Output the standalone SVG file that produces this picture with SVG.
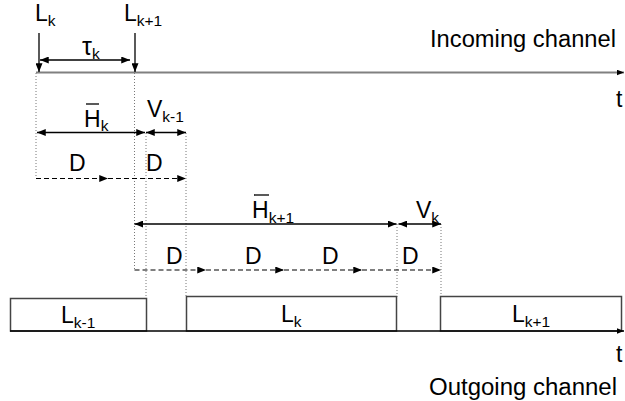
<svg xmlns="http://www.w3.org/2000/svg" width="625" height="401" viewBox="0 0 625 401">
<style>
text{font-family:"Liberation Sans",Arial,sans-serif;fill:#000}
.lb{font-size:23px}
.sb{font-size:15.5px}
.ax{stroke:#808080;stroke-width:2;fill:none}
.ar{stroke:#000;stroke-width:1.3;fill:none}
.ds{stroke:#000;stroke-width:1.2;stroke-dasharray:5,3;fill:none}
.dt{stroke:#777;stroke-width:1;stroke-dasharray:1,2;fill:none}
.bx{fill:#fff;stroke:#444;stroke-width:1.5}
.ob{stroke:#000;stroke-width:1.3}
</style>
<defs>
<marker id="ah" viewBox="0 0 10 8" refX="10" refY="4" markerWidth="9" markerHeight="7" markerUnits="userSpaceOnUse" orient="auto-start-reverse">
<path d="M0,0 L10,4 L0,8 Z" fill="#000"/>
</marker>
<marker id="ahs" viewBox="0 0 10 8" refX="10" refY="4" markerWidth="7" markerHeight="6" markerUnits="userSpaceOnUse" orient="auto">
<path d="M0,0 L10,4 L0,8 Z" fill="#000"/>
</marker>
</defs>

<g id="guides">
<line class="dt" x1="36" y1="73" x2="36" y2="178"/>
<line class="dt" x1="134.5" y1="73" x2="134.5" y2="270"/>
<line class="dt" x1="146" y1="133" x2="146" y2="298"/>
<line class="dt" x1="186" y1="133" x2="186" y2="297"/>
<line class="dt" x1="397" y1="224" x2="397" y2="297"/>
<line class="dt" x1="441" y1="224" x2="441" y2="297"/>
</g>

<g id="incoming-channel">
<line class="ax" x1="36" y1="72.5" x2="624" y2="72.5" marker-end="url(#ahs)"/>
<text class="lb" x="430" y="46.5" textLength="186" lengthAdjust="spacingAndGlyphs">Incoming channel</text>
<text class="lb" x="616" y="107">t</text>
</g>

<g id="outgoing-channel">
<g id="box-Lk-1">
<rect class="bx" x="10.5" y="298.5" width="136" height="32.5"/>
<text class="lb" x="61" y="323">L<tspan class="sb" dy="5">k-1</tspan></text>
</g>
<g id="box-Lk">
<rect class="bx" x="186.5" y="296.5" width="210" height="34.5"/>
<text class="lb" x="281" y="322">L<tspan class="sb" dy="5">k</tspan></text>
</g>
<g id="box-Lk+1">
<rect class="bx" x="440.5" y="296.5" width="181" height="34.5"/>
<text class="lb" x="512" y="322">L<tspan class="sb" dy="5">k+1</tspan></text>
</g>
<line class="ar" x1="10" y1="331" x2="624" y2="331" marker-end="url(#ahs)"/>
<text class="lb" x="616" y="362">t</text>
<text class="lb" x="429" y="395" textLength="188" lengthAdjust="spacingAndGlyphs">Outgoing channel</text>
</g>

<g id="arrivals">
<g id="arrival-Lk">
<text class="lb" x="35" y="21">L<tspan class="sb" dy="5">k</tspan></text>
<line class="ar" x1="39" y1="33" x2="39" y2="72" marker-end="url(#ah)"/>
</g>
<g id="arrival-Lk+1">
<text class="lb" x="124" y="21">L<tspan class="sb" dy="5">k+1</tspan></text>
<line class="ar" x1="135" y1="33" x2="135" y2="72" marker-end="url(#ah)"/>
</g>
</g>

<g id="connectors">
<g id="tau">
<line class="ar" x1="40" y1="60" x2="130" y2="60" marker-start="url(#ah)" marker-end="url(#ah)"/>
<text x="82" y="55" style="font-size:25px">τ<tspan class="sb" dy="4">k</tspan></text>
</g>
<g id="Hk">
<line class="ar" x1="37" y1="132.5" x2="145" y2="132.5" marker-start="url(#ah)" marker-end="url(#ah)"/>
<line class="ob" x1="86" y1="104" x2="99" y2="104"/>
<text class="lb" x="84" y="127">H<tspan class="sb" dy="4">k</tspan></text>
</g>
<g id="Vk-1">
<line class="ar" x1="146" y1="132.5" x2="186" y2="132.5" marker-start="url(#ah)" marker-end="url(#ah)"/>
<text class="lb" x="147" y="117">V<tspan class="sb" dy="5">k-1</tspan></text>
</g>
<g id="D-row1">
<line class="ds" x1="36" y1="178.5" x2="108" y2="178.5" marker-end="url(#ah)"/>
<line class="ds" x1="108" y1="178.5" x2="186" y2="178.5" marker-end="url(#ah)"/>
<text class="lb" x="69" y="171">D</text>
<text class="lb" x="146" y="171">D</text>
</g>
<g id="Hk+1">
<line class="ar" x1="134.5" y1="224" x2="396.5" y2="224" marker-start="url(#ah)" marker-end="url(#ah)"/>
<line class="ob" x1="254" y1="195" x2="269" y2="195"/>
<text class="lb" x="252" y="218">H<tspan class="sb" dy="5">k+1</tspan></text>
</g>
<g id="Vk">
<line class="ar" x1="398.5" y1="224" x2="441" y2="224" marker-start="url(#ah)" marker-end="url(#ah)"/>
<text class="lb" x="416" y="218">V<tspan class="sb" dy="5">k</tspan></text>
</g>
<g id="D-row2">
<line class="ds" x1="134.5" y1="270" x2="206" y2="270" marker-end="url(#ah)"/>
<line class="ds" x1="206" y1="270" x2="284" y2="270" marker-end="url(#ah)"/>
<line class="ds" x1="284" y1="270" x2="362" y2="270" marker-end="url(#ah)"/>
<line class="ds" x1="362" y1="270" x2="441" y2="270" marker-end="url(#ah)"/>
<text class="lb" x="166" y="264">D</text>
<text class="lb" x="245" y="264">D</text>
<text class="lb" x="322" y="264">D</text>
<text class="lb" x="402" y="264">D</text>
</g>
</g>
</svg>
